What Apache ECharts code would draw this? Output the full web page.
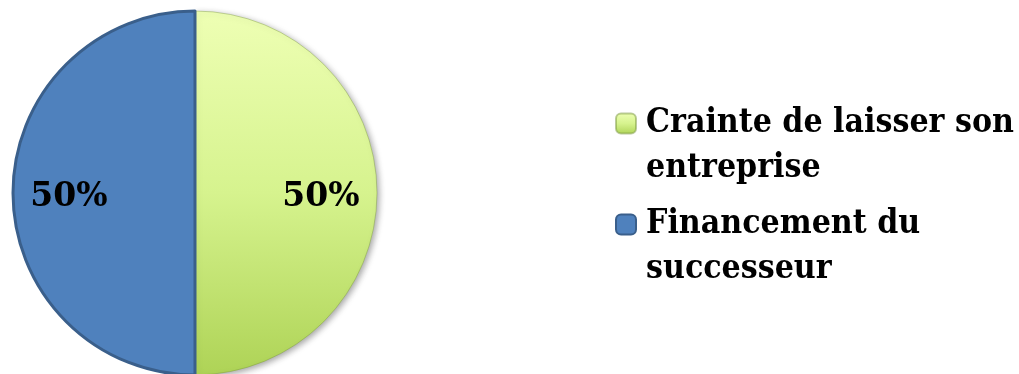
<!DOCTYPE html>
<html>
<head>
<meta charset="utf-8">
<script src="https://cdn.jsdelivr.net/npm/echarts@6/dist/echarts.min.js"></script>
<style>
  html, body { margin: 0; padding: 0; background: #ffffff; }
  #chart { width: 1019px; height: 374px; }
</style>
</head>
<body>
<div id="chart"></div>
<script>
// Raisons évoquées (parts en %)
const categories = ['Crainte de laisser son entreprise', 'Financement du successeur'];
const values = [50, 50];
// Libellés de légende sur deux lignes
const legendLabels = ['Crainte de laisser son\nentreprise', 'Financement du\nsuccesseur'];

const FONT = '"DejaVu Serif", "Liberation Serif", serif';
const LEGEND_FONT = '"DejaVu Serif Condensed", "Liberation Serif", serif';

const sliceStyles = [
  {
    color: {
      type: 'linear', x: 0, y: 0, x2: 0, y2: 1,
      colorStops: [
        { offset: 0, color: '#eeffb4' },
        { offset: 0.5, color: '#d6f38e' },
        { offset: 1, color: '#aed356' }
      ]
    },
    borderColor: 'rgba(120,150,60,0.5)',
    borderWidth: 0.8,
    shadowColor: 'rgba(0,0,0,0.35)',
    shadowBlur: 6,
    shadowOffsetX: 2,
    shadowOffsetY: 2
  },
  {
    color: '#4f81bd',
    borderColor: '#3a5f8b',
    borderWidth: 3
  }
];

const chart = echarts.init(document.getElementById('chart'), null, { renderer: 'canvas' });

chart.setOption({
  animation: false,
  backgroundColor: '#ffffff',
  legend: {
    orient: 'vertical',
    left: 615,
    top: 56,
    padding: 0,
    itemWidth: 20,
    itemHeight: 20,
    itemGap: -34,
    icon: 'roundRect',
    selectedMode: false,
    data: categories,
    // blank first line keeps the first text line centred on the icon
    formatter: function (name) {
      return '\n' + legendLabels[categories.indexOf(name)];
    },
    textStyle: {
      fontFamily: LEGEND_FONT,
      fontWeight: 'bold',
      fontSize: 33.5,
      lineHeight: 45,
      color: '#000000',
      padding: [0, 0, 0, 5]
    }
  },
  series: [{
    type: 'pie',
    center: [195, 193],
    radius: [0, 182],
    startAngle: 90,
    clockwise: true,
    silent: true,
    emphasis: { disabled: true },
    label: {
      show: true,
      position: 'inside',
      formatter: '{d}%',
      fontFamily: FONT,
      fontWeight: 'bold',
      fontSize: 33,
      color: '#000000'
    },
    labelLayout: function (params) {
      return { dx: params.dataIndex === 0 ? 32 : -32, dy: 4 };
    },
    data: categories.map(function (name, i) {
      return { name: name, value: values[i], itemStyle: sliceStyles[i] };
    })
  }]
});
</script>
</body>
</html>
